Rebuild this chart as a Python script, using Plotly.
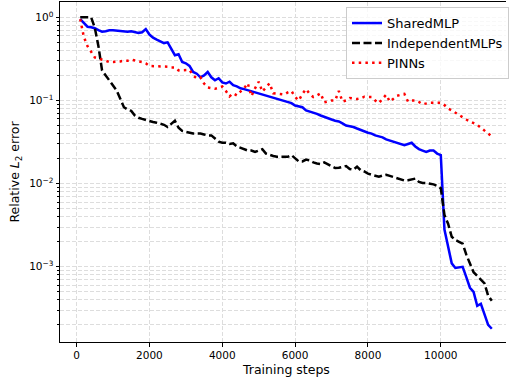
import plotly.graph_objects as go

steps = list(range(100, 11401, 100))

shared_mlp = [
    0.95, 0.85, 0.77, 0.76, 0.74, 0.70, 0.67, 0.68, 0.70, 0.70,
    0.69, 0.68, 0.67, 0.67, 0.68, 0.66, 0.65, 0.66, 0.72, 0.62,
    0.57, 0.54, 0.51, 0.49, 0.50, 0.42, 0.35, 0.36, 0.29, 0.28,
    0.26, 0.22, 0.21, 0.19, 0.20, 0.22, 0.19, 0.175, 0.185, 0.165,
    0.16, 0.168, 0.153, 0.148, 0.14, 0.137, 0.133, 0.128, 0.125, 0.122,
    0.119, 0.114, 0.111, 0.108, 0.106, 0.102, 0.098, 0.096, 0.093, 0.087,
    0.085, 0.083, 0.076, 0.074, 0.071, 0.069, 0.066, 0.064, 0.062, 0.059,
    0.057, 0.056, 0.053, 0.050, 0.049, 0.048, 0.046, 0.044, 0.042, 0.041,
    0.040, 0.038, 0.037, 0.036, 0.034, 0.033, 0.032, 0.031, 0.030, 0.029,
    0.030, 0.031, 0.028, 0.026, 0.025, 0.024, 0.025, 0.025, 0.023, 0.022,
    0.0028, 0.0017, 0.0011, 0.00097, 0.00099, 0.00100, 0.00075, 0.00056, 0.00050, 0.00034,
    0.00036, 0.00026, 0.00020, 0.00018,
]

independent_mlps = [
    1.0, 1.0, 1.0, 1.0, 0.75, 0.45, 0.23, 0.20, 0.175, 0.155,
    0.132, 0.105, 0.083, 0.078, 0.075, 0.066, 0.062, 0.060, 0.058, 0.057,
    0.055, 0.054, 0.053, 0.051, 0.048, 0.053, 0.057, 0.047, 0.043, 0.042,
    0.041, 0.040, 0.040, 0.040, 0.039, 0.038, 0.038, 0.035, 0.032, 0.031,
    0.031, 0.030, 0.0305, 0.028, 0.027, 0.026, 0.025, 0.025, 0.024, 0.025,
    0.026, 0.023, 0.022, 0.0215, 0.021, 0.021, 0.021, 0.021, 0.022, 0.020,
    0.0185, 0.0185, 0.0195, 0.019, 0.018, 0.0175, 0.0172, 0.018, 0.017, 0.016,
    0.0154, 0.0155, 0.016, 0.0163, 0.015, 0.0147, 0.016, 0.0145, 0.014, 0.0132,
    0.0128, 0.0125, 0.0121, 0.0125, 0.0128, 0.0124, 0.012, 0.0118, 0.0113, 0.0109,
    0.011, 0.0113, 0.0115, 0.0105, 0.0102, 0.0102, 0.0101, 0.0098, 0.0094, 0.0088,
    0.0042, 0.0033, 0.0023, 0.0021, 0.0020, 0.0019, 0.0014, 0.0011, 0.00086, 0.00078,
    0.00070, 0.00063, 0.00045, 0.00039,
]

pinns = [
    0.95, 0.58, 0.45, 0.38, 0.33, 0.32, 0.31, 0.30, 0.29, 0.29,
    0.29, 0.295, 0.30, 0.30, 0.31, 0.30, 0.295, 0.29, 0.28, 0.26,
    0.26, 0.26, 0.26, 0.255, 0.255, 0.25, 0.25, 0.23, 0.23, 0.23,
    0.233, 0.20, 0.185, 0.19, 0.16, 0.143, 0.14, 0.138, 0.142, 0.147,
    0.13, 0.112, 0.122, 0.115, 0.128, 0.14, 0.161, 0.113, 0.14, 0.168,
    0.128, 0.145, 0.161, 0.122, 0.12, 0.119, 0.118, 0.125, 0.13, 0.11,
    0.10, 0.12, 0.137, 0.12, 0.11, 0.115, 0.122, 0.095, 0.098, 0.10,
    0.10, 0.13, 0.097, 0.10, 0.107, 0.105, 0.104, 0.106, 0.111, 0.11,
    0.11, 0.10, 0.093, 0.105, 0.117, 0.097, 0.105, 0.114, 0.117, 0.12,
    0.097, 0.10, 0.10, 0.096, 0.09, 0.092, 0.094, 0.094, 0.094, 0.094,
    0.088, 0.08, 0.076, 0.071, 0.066, 0.062, 0.059, 0.056, 0.053, 0.051,
    0.047, 0.043, 0.040, 0.037,
]

x_ticks = [0, 2000, 4000, 6000, 8000, 10000]
x_tick_text = ["0", "2000", "4000", "6000", "8000", "10000"]
y_ticks = [1, 0.1, 0.01, 0.001]
y_tick_text = ["10<sup>0</sup>", "10<sup>\u22121</sup>", "10<sup>\u22122</sup>", "10<sup>\u22123</sup>"]

FONT = "DejaVu Sans"
GRID = "#dddddd"

fig = go.Figure()
fig.add_trace(go.Scatter(x=steps, y=shared_mlp, mode="lines", name="SharedMLP",
                         line=dict(color="#0000ff", width=2.5)))
fig.add_trace(go.Scatter(x=steps, y=independent_mlps, mode="lines", name="IndependentMLPs",
                         line=dict(color="#000000", width=2.5, dash="8px,3.5px")))
fig.add_trace(go.Scatter(x=steps, y=pinns, mode="lines", name="PINNs",
                         line=dict(color="#ff0000", width=2.5, dash="2.5px,4.2px")))

fig.update_layout(
    width=509, height=377,
    margin=dict(l=60, r=0, t=2, b=35),
    paper_bgcolor="white", plot_bgcolor="white",
    font=dict(family=FONT, color="#000000", size=10.5),
    showlegend=True,
    legend=dict(x=0.6414, y=0.985, xanchor="left", yanchor="top",
                bgcolor="rgba(255,255,255,0.8)", bordercolor="#cccccc", borderwidth=1,
                font=dict(family=FONT, size=13)),
    xaxis=dict(range=[-455, 11790], tickvals=x_ticks, ticktext=x_tick_text,
               ticks="outside", ticklen=3.5,
               tickcolor="#000", showline=True, linecolor="#000", linewidth=1, mirror=True,
               showgrid=True, gridcolor=GRID, griddash="4px,2px", gridwidth=1,
               zeroline=False, tickfont=dict(size=10.5)),
    yaxis=dict(type="log", range=[-3.904, 0.184], tickvals=y_ticks, ticktext=y_tick_text,
               ticks="outside", ticklen=3.5, tickcolor="#000", showline=True,
               linecolor="#000", linewidth=1, showgrid=True, gridcolor=GRID,
               griddash="4px,2px", gridwidth=1, zeroline=False, tickfont=dict(size=10.5),
               minor=dict(dtick="D1", ticks="outside", ticklen=2, tickcolor="#000",
                          showgrid=True, gridcolor=GRID, griddash="4px,2px"),
               title=dict(text="Relative <i>L</i><sub>2</sub> error",
                          font=dict(size=12.5), standoff=6)),
)

fig.add_annotation(text="Training steps", xref="paper", yref="paper",
                   x=(287.7 - 60) / 449, y=(342 - 369) / 340,
                   xanchor="center", yanchor="middle", showarrow=False,
                   font=dict(family=FONT, size=12.5))

fig.write_html("out.html")
